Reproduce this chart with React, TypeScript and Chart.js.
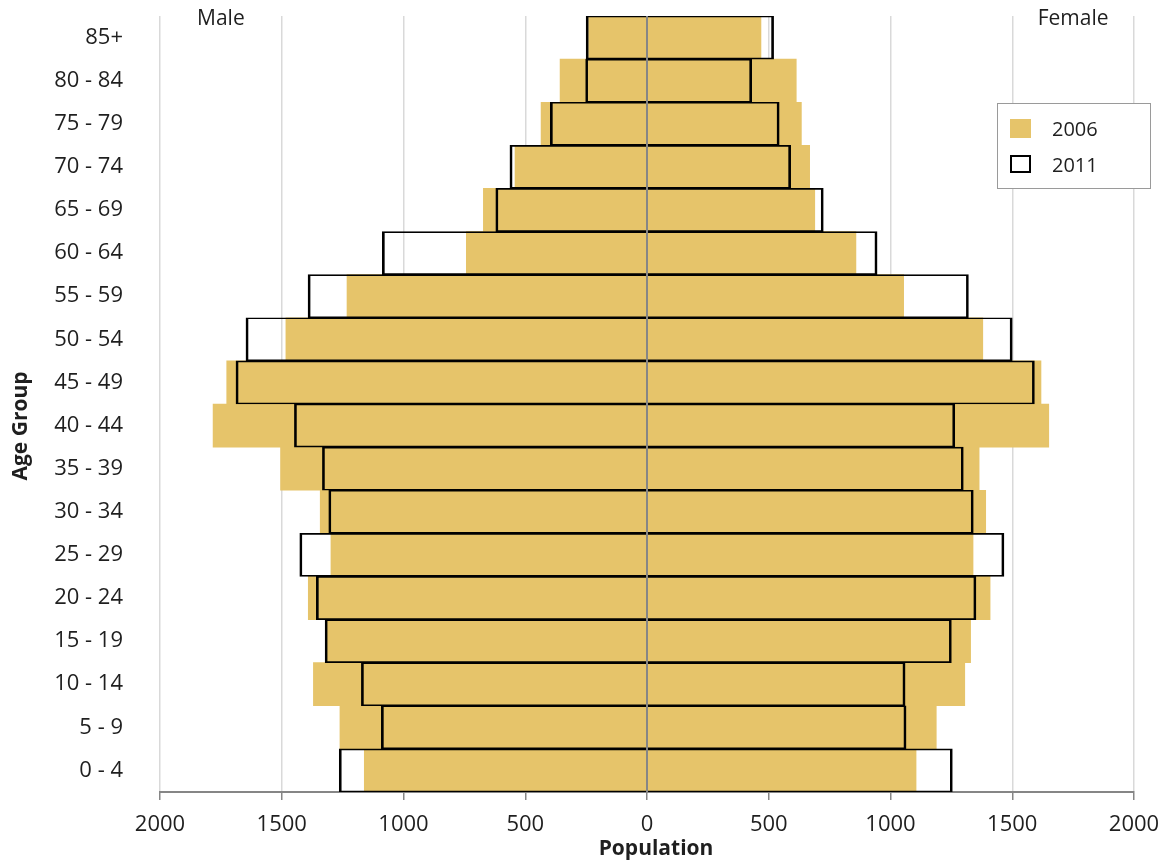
import React, { useEffect, useRef } from "react";
import { Chart, registerables } from "chart.js";

Chart.register(...registerables);

const ageGroups = [
  "0 - 4", "5 - 9", "10 - 14", "15 - 19", "20 - 24", "25 - 29", "30 - 34", "35 - 39", "40 - 44",
  "45 - 49", "50 - 54", "55 - 59", "60 - 64", "65 - 69", "70 - 74", "75 - 79", "80 - 84", "85+",
];
const male2006 = [1161, 1261, 1370, 1318, 1391, 1298, 1342, 1505, 1782, 1726, 1483, 1232, 742, 672, 542, 435, 357, 240];
const female2006 = [1105, 1188, 1305, 1329, 1409, 1339, 1391, 1364, 1650, 1618, 1379, 1054, 858, 689, 668, 634, 613, 468];
const male2011 = [1264, 1091, 1173, 1322, 1358, 1426, 1307, 1333, 1448, 1688, 1647, 1392, 1087, 621, 563, 397, 252, 250];
const female2011 = [1254, 1064, 1060, 1250, 1351, 1466, 1340, 1299, 1264, 1591, 1500, 1320, 945, 724, 590, 543, 430, 520];
const years = ["2006", "2011"];
const sideLabels = ["Male", "Female"];
const xTitle = "Population";
const yTitle = "Age Group";

const FONT = "'Open Sans', sans-serif";
const GOLD = "#E6C46A";
const TEXT = "#1f1f1f";
const AXIS = "#868686";

export default function App() {
  const ref = useRef<HTMLCanvasElement>(null);

  useEffect(() => {
    const canvas = ref.current!;
    const overlay = {
      id: "overlay",
      afterDatasetsDraw(chart: any) {
        const { ctx, chartArea } = chart;
        const x0 = chart.scales.x.getPixelForValue(0);
        ctx.save();
        ctx.strokeStyle = AXIS;
        ctx.lineWidth = 2;
        ctx.beginPath();
        ctx.moveTo(x0, chartArea.top);
        ctx.lineTo(x0, chartArea.bottom);
        ctx.stroke();
        ctx.restore();
      },
      afterDraw(chart: any) {
        const { ctx, chartArea } = chart;
        const xs = chart.scales.x;
        ctx.save();
        // Male / Female labels
        ctx.fillStyle = TEXT;
        ctx.font = `21px ${FONT}`;
        ctx.textAlign = "center";
        ctx.textBaseline = "middle";
        ctx.fillText(sideLabels[0], xs.getPixelForValue(-1750), 19);
        ctx.fillText(sideLabels[1], xs.getPixelForValue(1750), 19);
        // Axis titles
        ctx.font = `bold 21px ${FONT}`;
        ctx.fillText(xTitle, (chartArea.left + chartArea.right) / 2 + 9, 849);
        ctx.save();
        ctx.translate(21, 426);
        ctx.rotate(-Math.PI / 2);
        ctx.fillText(yTitle, 0, 0);
        ctx.restore();
        // Legend
        const lx = 997, ly = 103, lw = 153, lh = 85;
        ctx.fillStyle = "#ffffff";
        ctx.fillRect(lx, ly, lw, lh);
        ctx.strokeStyle = "#9a9a9a";
        ctx.lineWidth = 1;
        ctx.strokeRect(lx + 0.5, ly + 0.5, lw, lh);
        ctx.fillStyle = GOLD;
        ctx.fillRect(1010, 119, 21, 19);
        ctx.strokeStyle = "#000";
        ctx.lineWidth = 2;
        ctx.strokeRect(1011, 156, 19, 16);
        ctx.fillStyle = TEXT;
        ctx.font = `20px ${FONT}`;
        ctx.textAlign = "left";
        ctx.fillText(years[0], 1052, 130);
        ctx.fillText(years[1], 1052, 166);
        ctx.restore();
      },
    };

    const outline = {
      backgroundColor: "rgba(0,0,0,0)",
      borderColor: "#000000",
      borderWidth: { top: 1, bottom: 1, left: 2, right: 2 },
      borderSkipped: "start",
      grouped: false,
      order: 1,
    };
    const filled = {
      backgroundColor: GOLD,
      borderWidth: 0,
      grouped: false,
      order: 2,
    };

    const chart = new Chart(canvas, {
      type: "bar",
      data: {
        labels: ageGroups,
        datasets: [
          { label: years[1], data: male2011.map((v) => -v), ...outline } as any,
          { label: years[1], data: female2011, ...outline } as any,
          { label: years[0], data: male2006.map((v) => -v), ...filled } as any,
          { label: years[0], data: female2006, ...filled } as any,
        ],
      },
      options: {
        indexAxis: "y",
        responsive: false,
        animation: false,
        devicePixelRatio: 1,
        layout: { padding: { left: 0, right: 34, top: 16, bottom: 0 } },
        datasets: { bar: { barPercentage: 1, categoryPercentage: 1 } },
        plugins: { legend: { display: false }, tooltip: { enabled: false } },
        scales: {
          x: {
            min: -2000,
            max: 2000,
            ticks: {
              stepSize: 500,
              callback: (v: any) => String(Math.abs(Number(v))),
              font: { family: FONT, size: 22 },
              color: TEXT,
              padding: 12,
            },
            grid: {
              color: (c: any) => (c.tick && c.tick.value === 0 ? AXIS : "#d9d9d9"),
              lineWidth: 1.5,
              tickColor: AXIS,
              tickLength: 8,
              drawTicks: true,
            },
            border: { color: AXIS, width: 2 },
            afterFit: (s: any) => {
              s.height = 73;
              s.paddingLeft = 0;
              s.paddingRight = 0;
            },
          },
          y: {
            reverse: true,
            grid: { display: false, drawTicks: false },
            border: { display: false },
            ticks: { font: { family: FONT, size: 22 }, color: TEXT, padding: 37 },
            afterFit: (s: any) => {
              s.width = 160;
              s.paddingTop = 0;
              s.paddingBottom = 0;
            },
          },
        },
      } as any,
      plugins: [overlay],
    });
    return () => chart.destroy();
  }, []);

  return (
    <div style={{ position: "fixed", left: 0, top: 0, width: 1168, height: 865, background: "#fff" }}>
      <canvas ref={ref} width={1168} height={865} style={{ display: "block", width: 1168, height: 865 }} />
    </div>
  );
}
